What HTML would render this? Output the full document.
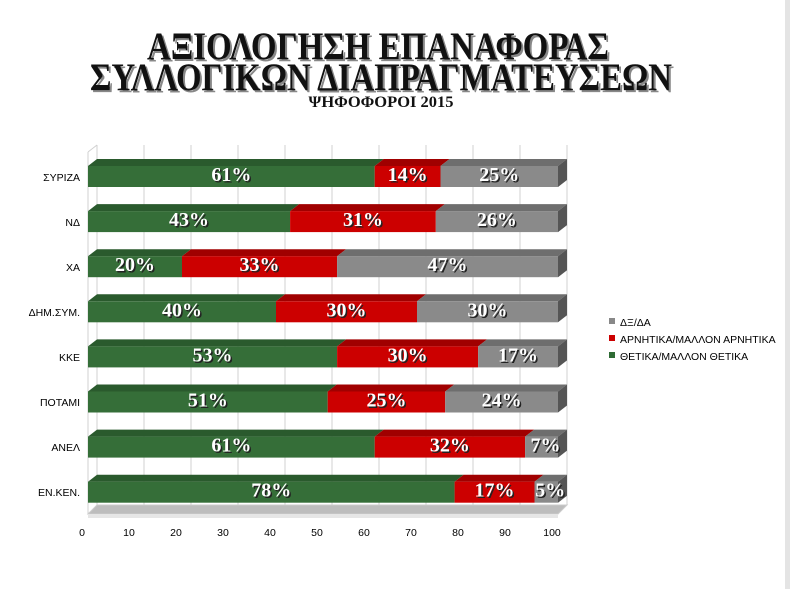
<!DOCTYPE html>
<html><head><meta charset="utf-8"><style>
body{margin:0;background:#fff;}
svg{display:block}
.t{font-family:"Liberation Serif",serif;font-weight:bold;fill:#111;}
.v{font-family:"Liberation Serif",serif;font-weight:bold;font-size:20px;fill:#fff;text-anchor:middle;}
.vs{font-family:"Liberation Serif",serif;font-weight:bold;font-size:20px;fill:#222;text-anchor:middle;}
.s{font-family:"Liberation Sans",sans-serif;font-size:10.5px;fill:#000;}
</style></head><body>
<svg width="790" height="589" viewBox="0 0 790 589" xmlns="http://www.w3.org/2000/svg">
<rect width="790" height="589" fill="#fff"/>
<rect x="785" y="0" width="5" height="589" fill="#e4e4e4"/>
<g>
<text class="t" x="378" y="59" font-size="39" text-anchor="middle" textLength="462" lengthAdjust="spacingAndGlyphs" transform="translate(2,2)" style="fill:#888">ΑΞΙΟΛΟΓΗΣΗ ΕΠΑΝΑΦΟΡΑΣ</text>
<text class="t" x="378" y="59" font-size="39" text-anchor="middle" textLength="462" lengthAdjust="spacingAndGlyphs">ΑΞΙΟΛΟΓΗΣΗ ΕΠΑΝΑΦΟΡΑΣ</text>
<text class="t" x="381" y="90" font-size="39" text-anchor="middle" textLength="582" lengthAdjust="spacingAndGlyphs" transform="translate(2,2)" style="fill:#888">ΣΥΛΛΟΓΙΚΩΝ ΔΙΑΠΡΑΓΜΑΤΕΥΣΕΩΝ</text>
<text class="t" x="381" y="90" font-size="39" text-anchor="middle" textLength="582" lengthAdjust="spacingAndGlyphs">ΣΥΛΛΟΓΙΚΩΝ ΔΙΑΠΡΑΓΜΑΤΕΥΣΕΩΝ</text>
<text class="t" x="381" y="107" font-size="16" text-anchor="middle" textLength="145" lengthAdjust="spacingAndGlyphs">ΨΗΦΟΦΟΡΟΙ 2015</text>
</g>
<g stroke="#d0d0d0" stroke-width="1">
<line x1="97" y1="145" x2="97" y2="505"/>
<line x1="144" y1="145" x2="144" y2="505"/>
<line x1="191" y1="145" x2="191" y2="505"/>
<line x1="238" y1="145" x2="238" y2="505"/>
<line x1="285" y1="145" x2="285" y2="505"/>
<line x1="332" y1="145" x2="332" y2="505"/>
<line x1="379" y1="145" x2="379" y2="505"/>
<line x1="426" y1="145" x2="426" y2="505"/>
<line x1="473" y1="145" x2="473" y2="505"/>
<line x1="520" y1="145" x2="520" y2="505"/>
<line x1="567" y1="145" x2="567" y2="505"/>
<line x1="88" y1="152" x2="97" y2="145"/>
<line x1="88" y1="152" x2="88" y2="514"/>
</g>
<polygon points="88,514 97,505 567,505 558,514" fill="#bdbdbd" stroke="#ccc"/>
<polygon points="88,514 558,514 558,518 88,518" fill="#e6e6e6"/>
<g id="bars"></g>
<g class="s" text-anchor="end">
<text x="80" y="181">ΣΥΡΙΖΑ</text>
<text x="80" y="226">ΝΔ</text>
<text x="80" y="271">ΧΑ</text>
<text x="80" y="316">ΔΗΜ.ΣΥΜ.</text>
<text x="80" y="361">ΚΚΕ</text>
<text x="80" y="406">ΠΟΤΑΜΙ</text>
<text x="80" y="451">ΑΝΕΛ</text>
<text x="80" y="496">ΕΝ.ΚΕΝ.</text>
</g>
<g class="s" text-anchor="middle">
<text x="82" y="536">0</text><text x="129" y="536">10</text><text x="176" y="536">20</text><text x="223" y="536">30</text><text x="270" y="536">40</text><text x="317" y="536">50</text><text x="364" y="536">60</text><text x="411" y="536">70</text><text x="458" y="536">80</text><text x="505" y="536">90</text><text x="552" y="536">100</text>
</g>
<rect x="609" y="318" width="6" height="6" fill="#888"/>
<text class="s" x="620" y="326">ΔΞ/ΔΑ</text>
<rect x="609" y="335" width="6" height="6" fill="#c00"/>
<text class="s" x="620" y="343">ΑΡΝΗΤΙΚΑ/ΜΑΛΛΟΝ ΑΡΝΗΤΙΚΑ</text>
<rect x="609" y="352" width="6" height="6" fill="#2e6b34"/>
<text class="s" x="620" y="360">ΘΕΤΙΚΑ/ΜΑΛΛΟΝ ΘΕΤΙΚΑ</text>
</svg>
<script>
var data=[[61,14,25],[43,31,26],[20,33,47],[40,30,30],[53,30,17],[51,25,24],[61,32,7],[78,17,5]];
var cols=[["#356e38","#2a5a2d"],["#cc0000","#a00000"],["#8a8a8a","#6e6e6e"]];
var g=document.getElementById('bars'),h="";
var x0=88,sc=4.7,dx=9,dy=7,H=21;
data.forEach(function(r,i){
 var y=166+i*45.1,x=x0;
 r.forEach(function(v,j){
  var w=v*sc,c=cols[j];
  h+='<polygon points="'+x+','+y+' '+(x+w)+','+y+' '+(x+w+dx)+','+(y-dy)+' '+(x+dx)+','+(y-dy)+'" fill="'+c[1]+'"/>';
  h+='<rect x="'+x+'" y="'+y+'" width="'+w+'" height="'+H+'" fill="'+c[0]+'"/>';
  x+=w;
 });
 h+='<polygon points="'+x+','+y+' '+(x+dx)+','+(y-dy)+' '+(x+dx)+','+(y-dy+H)+' '+x+','+(y+H)+'" fill="#555"/>';
 x=x0;
 r.forEach(function(v,j){
  var w=v*sc,cx=x+w/2+(v<10?4:0);
  h+='<text class="vs" x="'+(cx+1.5)+'" y="'+(y+16.5)+'">'+v+'%</text>';
  h+='<text class="v" x="'+cx+'" y="'+(y+15)+'">'+v+'%</text>';
  x+=w;
 });
});
g.innerHTML=h;
</script>
</body></html>
